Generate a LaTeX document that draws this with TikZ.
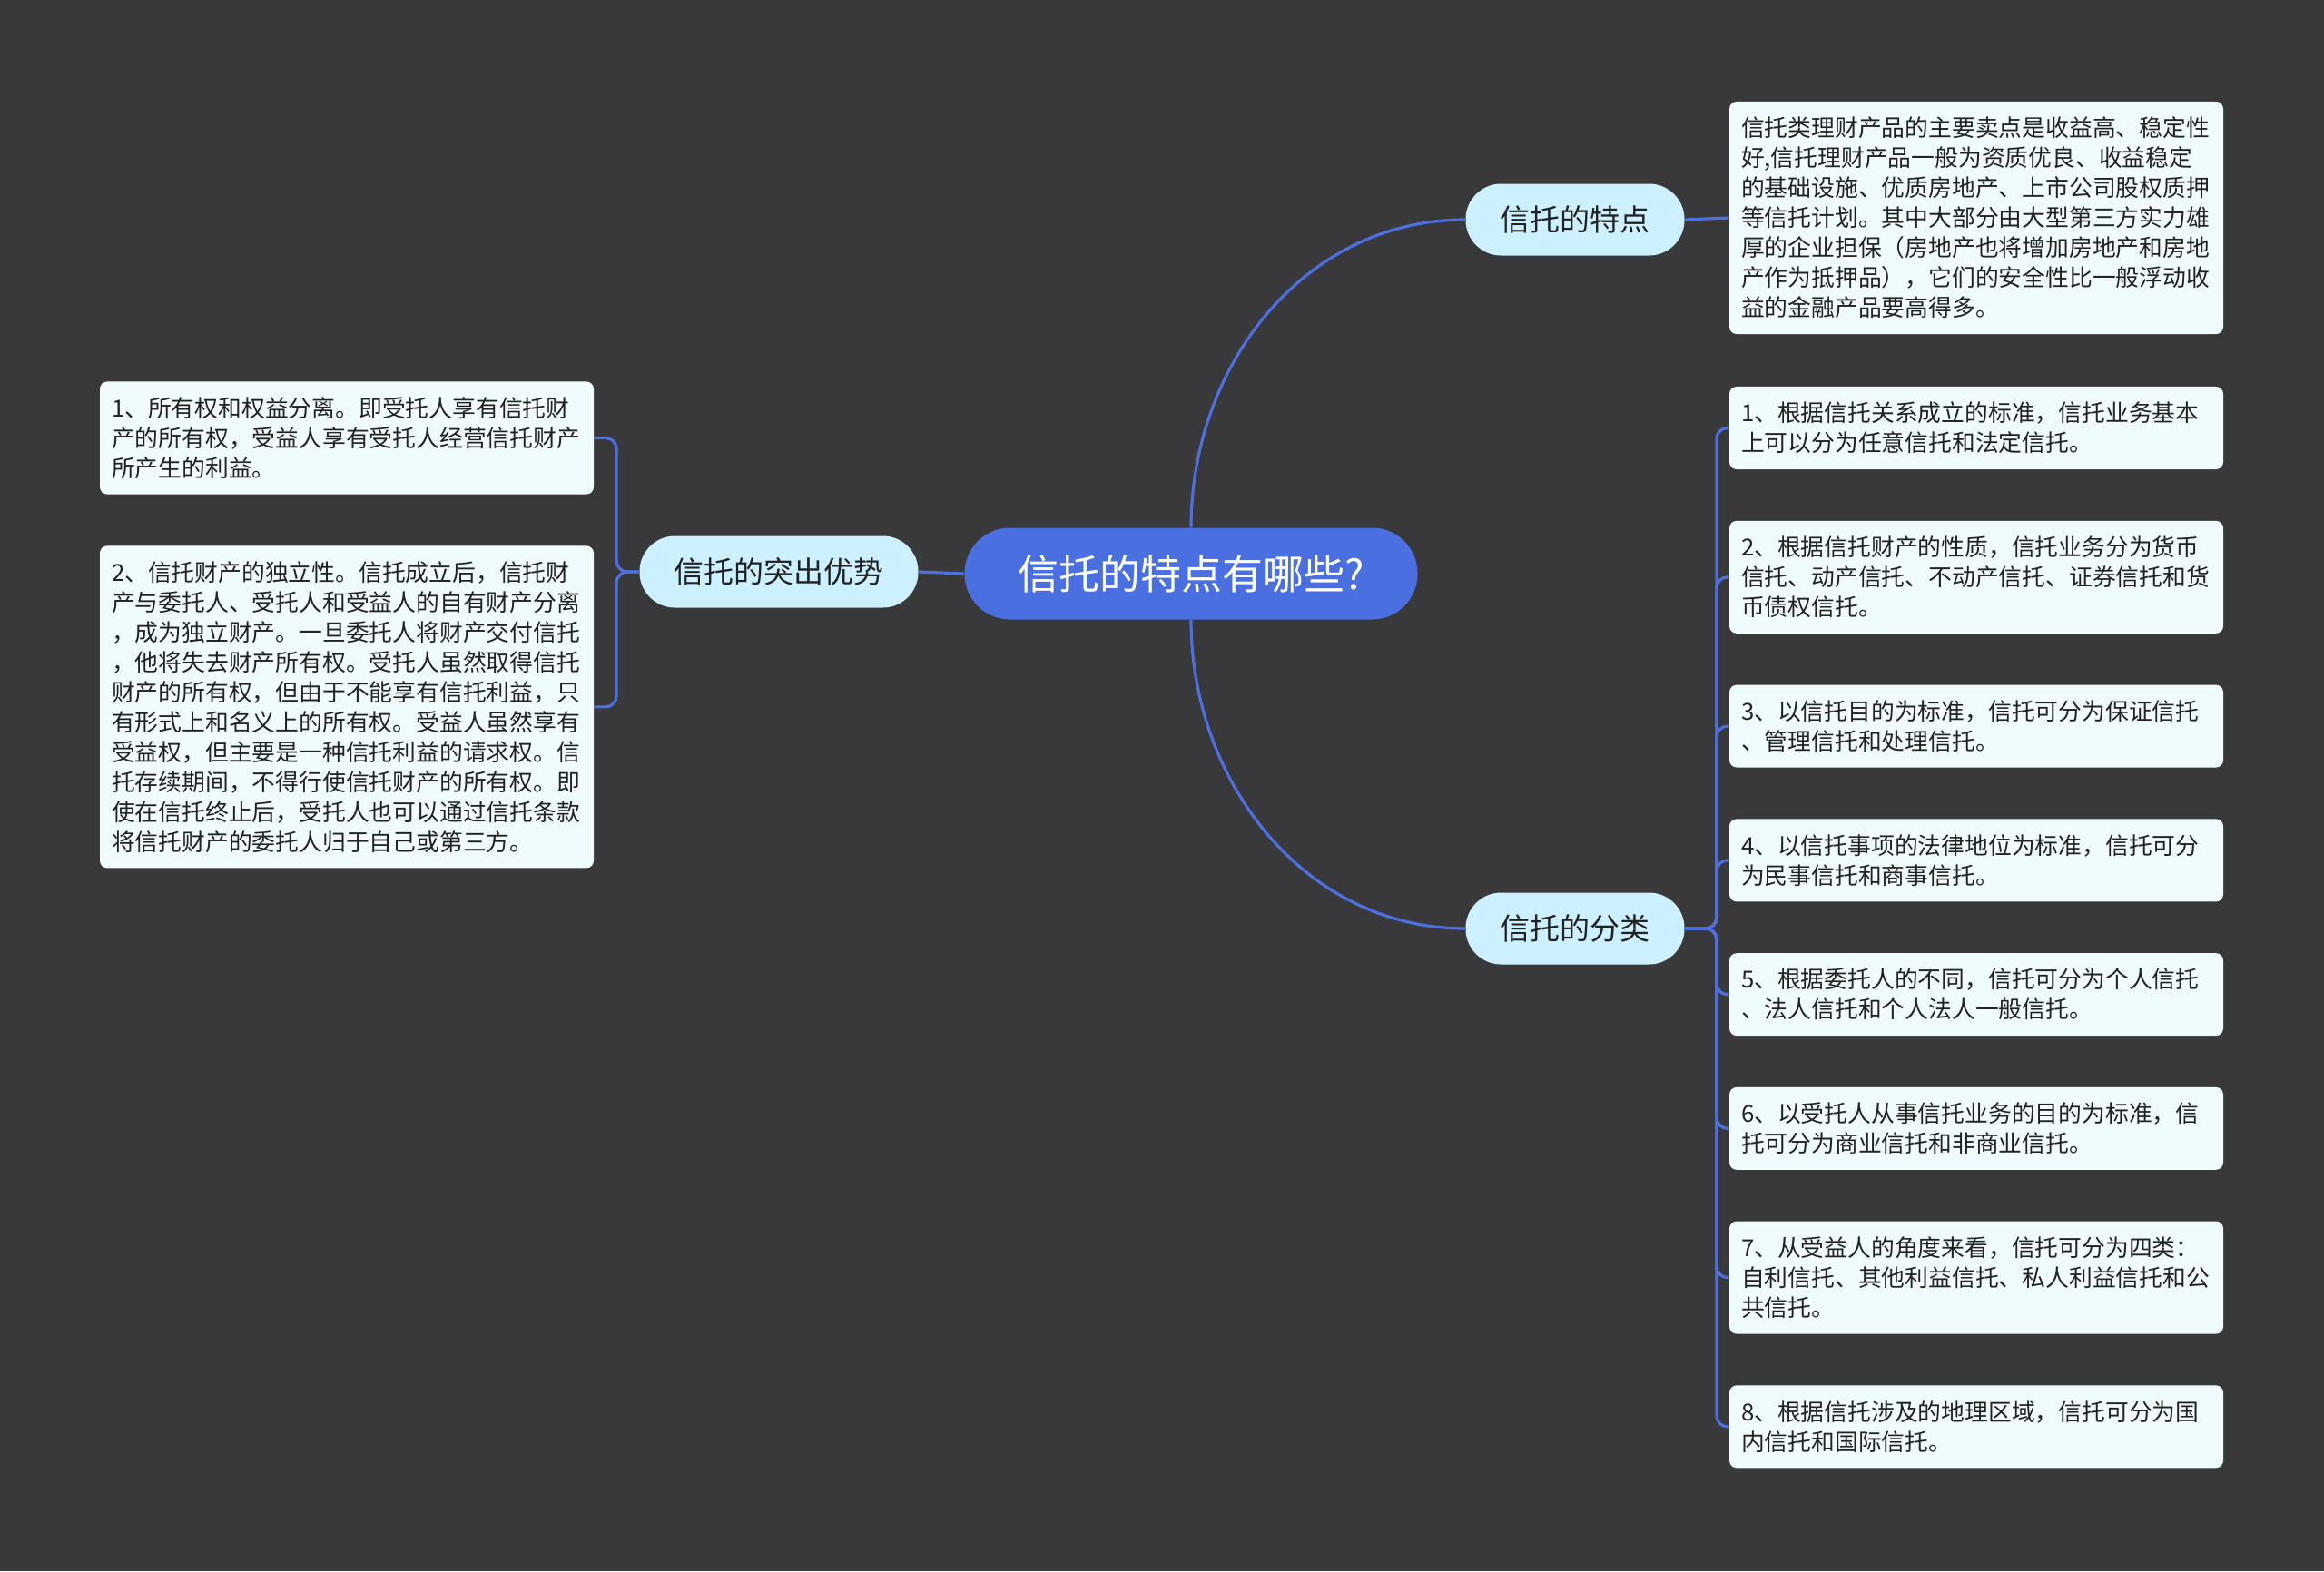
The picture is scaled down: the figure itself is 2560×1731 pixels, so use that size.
\documentclass[tikz,border=0pt]{standalone}
\usepackage{fontspec}
\setmainfont{Noto Sans CJK SC}
\usepackage{tikz}
\usetikzlibrary{positioning}
\definecolor{mapbg}{HTML}{39383A}
\definecolor{mapblue}{HTML}{4A6FE0}
\definecolor{mapline}{HTML}{4D6FDF}
\definecolor{mapsky}{HTML}{CDF0FE}
\definecolor{mappale}{HTML}{F0FBFE}
\definecolor{mapink}{HTML}{222222}

\begin{document}
\begin{tikzpicture}[x=0.5pt, y=-0.5pt, node distance=28pt,
        root/.style={fill=mapblue, text=white, rounded corners=25pt, minimum width=249.5pt, minimum height=50.5pt, font=\fontsize{22.5}{26}\selectfont},
        topic/.style={fill=mapsky, text=mapink, rounded corners=19.5pt, minimum height=39.5pt, inner xsep=19pt, font=\fontsize{16.5}{20}\selectfont},
        leaf/.style={fill=mappale, text=mapink, rounded corners=4pt, text width=259pt, align=left, inner xsep=6.5pt, inner ysep=8.5pt, font=\fontsize{12.9}{16.5}\selectfont},
        link/.style={draw=mapline, line width=1.6pt}]
        \fill[mapbg] (0,0) rectangle (2560,1731);
        \node[root] (q) at (1312,632) {信托的特点有哪些?};
        \node[topic] (feat) at (1735,242) {信托的特点};
        \node[topic] (cls) at (1735,1023) {信托的分类};
        \node[topic] (adv) at (858,630) {信托的突出优势};
        \node[leaf] (ftxt) at (2177,240) {信托类理财产品的主要卖点是收益高、稳定性\\好,信托理财产品一般为资质优良、收益稳定\\的基础设施、优质房地产、上市公司股权质押\\等信托计划。其中大部分由大型第三方实力雄\\厚的企业担保（房地产也将增加房地产和房地\\产作为抵押品），它们的安全性比一般浮动收\\益的金融产品要高得多。};
        \node[leaf] (l1) at (382,482.5) {1、所有权和权益分离。即受托人享有信托财\\产的所有权，受益人享有受托人经营信托财产\\所产生的利益。};
        \node[leaf, below=of l1] (l2) {2、信托财产的独立性。信托成立后，信托财\\产与委托人、受托人和受益人的自有财产分离\\，成为独立财产。一旦委托人将财产交付信托\\，他将失去财产所有权。受托人虽然取得信托\\财产的所有权，但由于不能享有信托利益，只\\有形式上和名义上的所有权。受益人虽然享有\\受益权，但主要是一种信托利益的请求权。信\\托存续期间，不得行使信托财产的所有权。即\\使在信托终止后，受托人也可以通过信托条款\\将信托财产的委托人归于自己或第三方。};
        \node[leaf] (r1) at (2177,471.5) {1、根据信托关系成立的标准，信托业务基本\\上可以分为任意信托和法定信托。};
        \node[leaf, below=of r1] (r2) {2、根据信托财产的性质，信托业务分为货币\\信托、动产信托、不动产信托、证券信托和货\\币债权信托。};
        \node[leaf, below=of r2] (r3) {3、以信托目的为标准，信托可分为保证信托\\、管理信托和处理信托。};
        \node[leaf, below=of r3] (r4) {4、以信托事项的法律地位为标准，信托可分\\为民事信托和商事信托。};
        \node[leaf, below=of r4] (r5) {5、根据委托人的不同，信托可分为个人信托\\、法人信托和个人法人一般信托。};
        \node[leaf, below=of r5] (r6) {6、以受托人从事信托业务的目的为标准，信\\托可分为商业信托和非商业信托。};
        \node[leaf, below=of r6] (r7) {7、从受益人的角度来看，信托可分为四类：\\自利信托、其他利益信托、私人利益信托和公\\共信托。};
        \node[leaf, below=of r7] (r8) {8、根据信托涉及的地理区域，信托可分为国\\内信托和国际信托。};
        \draw[link] (q.west) -- (adv.east);
        \draw[link] (q.north) to[out=90, in=180] (feat.west);
        \draw[link] (q.south) to[out=-90, in=180] (cls.west);
        \draw[link] (feat.east) -- (ftxt.west);
        \foreach \n in {l1,l2}
          \draw[link, rounded corners=6pt] (adv.west) -- ++(-25,0) |- (\n.east);
        \foreach \i in {1,...,8}
          \draw[link, rounded corners=6pt] (cls.east) -- ++(35,0) |- (r\i.west);
      \end{tikzpicture}
\end{document}
